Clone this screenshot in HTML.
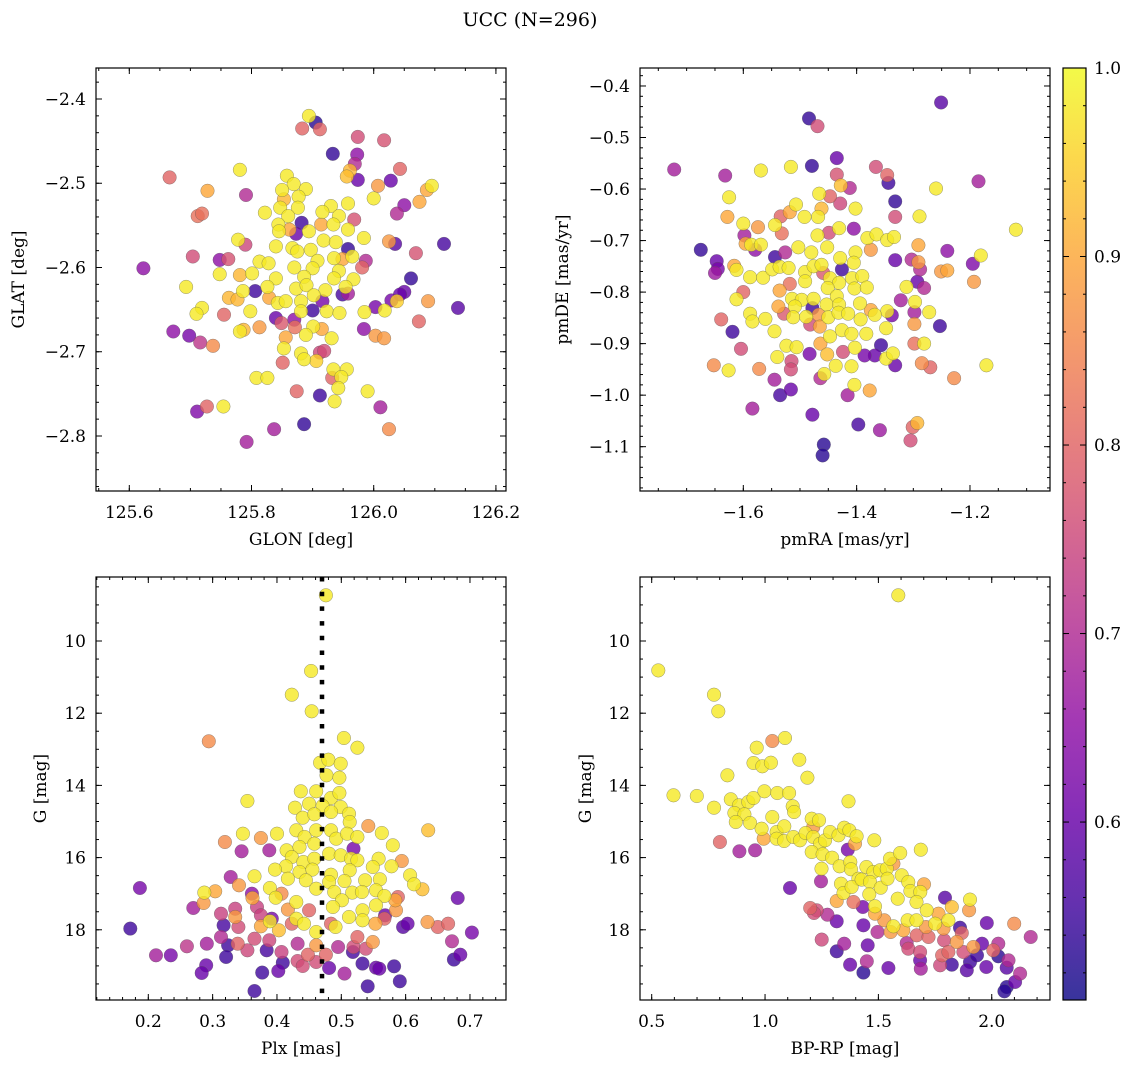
<!DOCTYPE html>
<html><head><meta charset="utf-8"><style>
html,body{margin:0;padding:0;background:#fff;}
svg{display:block;font-family:"DejaVu Serif","Liberation Serif",serif;}
</style></head><body>
<svg id="fig" width="1136" height="1067" viewBox="0 0 1136 1067" xmlns="http://www.w3.org/2000/svg">
<text x="530" y="26" font-size="19" text-anchor="middle">UCC (N=296)</text>
<g id="panels"></g>
</svg>
<script>
// ---------- Panel 1: GLON vs GLAT ----------
const p1x=[125.894,125.905,125.883,125.912,125.974,126.017,125.933,125.973,125.969,125.961,126.043,125.666,125.781,125.956,125.974,126.028,126.007,126.095,126.087,125.728,125.791,125.858,125.869,125.850,125.889,125.877,125.853,126.0,126.075,126.050,126.038,125.958,125.712,125.719,125.822,125.847,125.876,125.930,125.916,125.943,125.860,125.968,125.844,125.882,125.914,125.934,125.845,125.862,125.894,125.958,125.778,125.790,125.873,125.918,125.938,125.984,126.025,126.035,126.115,126.069,125.840,125.867,125.897,125.958,125.965,125.987,125.981,125.704,125.748,125.762,125.623,125.748,125.813,125.828,125.875,125.908,125.935,125.949,125.870,125.900,125.943,126.061,125.781,125.801,125.840,125.886,125.935,125.967,125.693,125.786,125.806,125.826,125.873,125.890,125.921,125.949,125.958,125.954,126.050,126.043,126.089,126.029,126.038,126.138,125.763,125.777,125.829,125.843,125.856,125.881,125.902,125.916,125.719,125.710,125.755,125.798,125.881,125.900,125.923,125.944,125.985,126.003,126.018,125.840,125.849,125.870,125.871,125.901,125.915,125.813,125.672,125.698,125.716,125.737,125.781,125.787,125.856,125.889,125.931,125.984,126.003,126.017,126.074,125.853,125.881,125.886,125.906,125.912,125.919,125.851,125.934,125.956,125.947,125.932,125.808,125.826,125.942,125.874,125.912,125.936,125.990,126.011,125.711,125.727,125.754,125.886,125.837,126.025,125.792];
const p1y=[-2.420,-2.428,-2.435,-2.436,-2.445,-2.449,-2.465,-2.466,-2.477,-2.485,-2.483,-2.493,-2.484,-2.492,-2.496,-2.497,-2.503,-2.503,-2.508,-2.509,-2.514,-2.491,-2.501,-2.508,-2.507,-2.516,-2.519,-2.518,-2.522,-2.526,-2.536,-2.524,-2.539,-2.536,-2.535,-2.529,-2.529,-2.527,-2.534,-2.539,-2.539,-2.543,-2.549,-2.547,-2.549,-2.549,-2.557,-2.555,-2.557,-2.555,-2.567,-2.573,-2.560,-2.568,-2.570,-2.565,-2.569,-2.572,-2.572,-2.583,-2.575,-2.577,-2.579,-2.578,-2.587,-2.592,-2.600,-2.587,-2.591,-2.590,-2.601,-2.608,-2.593,-2.595,-2.581,-2.592,-2.589,-2.590,-2.600,-2.601,-2.604,-2.613,-2.609,-2.607,-2.613,-2.611,-2.613,-2.614,-2.623,-2.628,-2.628,-2.623,-2.625,-2.621,-2.627,-2.632,-2.631,-2.623,-2.629,-2.632,-2.640,-2.639,-2.640,-2.648,-2.636,-2.638,-2.636,-2.642,-2.640,-2.640,-2.633,-2.640,-2.648,-2.655,-2.656,-2.652,-2.652,-2.651,-2.652,-2.654,-2.653,-2.647,-2.651,-2.660,-2.666,-2.662,-2.671,-2.670,-2.673,-2.671,-2.676,-2.681,-2.689,-2.693,-2.676,-2.674,-2.683,-2.680,-2.684,-2.673,-2.681,-2.684,-2.664,-2.696,-2.702,-2.709,-2.711,-2.701,-2.699,-2.713,-2.721,-2.721,-2.730,-2.731,-2.731,-2.731,-2.743,-2.747,-2.752,-2.759,-2.747,-2.766,-2.771,-2.765,-2.765,-2.786,-2.792,-2.792,-2.807];
const p1c=[.98,.53,.8,.8,.76,.77,.54,.65,.7,.92,.8,.8,.98,.93,.6,.6,.88,.98,.9,.9,.7,.98,.98,.98,.98,.98,.92,.98,.9,.65,.7,.98,.82,.82,.98,.98,.98,.98,.98,.98,.98,.77,.98,.55,.9,.98,.98,.9,.98,.98,.98,.75,.6,.98,.98,.98,.88,.58,.56,.77,.98,.98,.98,.54,.98,.7,.8,.76,.65,.77,.65,.98,.98,.98,.98,.98,.98,.9,.98,.98,.98,.54,.92,.98,.98,.98,.98,.98,.98,.98,.55,.98,.98,.98,.98,.56,.68,.98,.6,.6,.88,.62,.95,.58,.92,.92,.9,.98,.98,.98,.98,.62,.98,.98,.8,.98,.98,.55,.98,.98,.98,.62,.98,.6,.78,.65,.82,.98,.9,.88,.65,.62,.72,.86,.98,.92,.9,.98,.98,.65,.88,.88,.8,.98,.98,.98,.95,.75,.76,.8,.98,.98,.98,.8,.98,.98,.98,.8,.55,.98,.98,.68,.63,.8,.98,.54,.68,.86,.68];
const p1xTicks=[125.6,125.8,126.0,126.2];
const p1xTickLabels=["125.6","125.8","126.0","126.2"];
const p1yTicks=[-2.4,-2.5,-2.6,-2.7,-2.8];
const p1yTickLabels=["−2.4","−2.5","−2.6","−2.7","−2.8"];

// ---------- Panel 2: pmRA vs pmDE ----------
const p2x=[-1.251,-1.484,-1.469,-1.722,-1.632,-1.569,-1.516,-1.479,-1.435,-1.366,-1.346,-1.344,-1.435,-1.428,-1.412,-1.447,-1.429,-1.466,-1.185,-1.260,-1.332,-1.332,-1.625,-1.628,-1.600,-1.574,-1.534,-1.518,-1.507,-1.492,-1.468,-1.462,-1.402,-1.289,-1.119,-1.544,-1.532,-1.598,-1.596,-1.586,-1.569,-1.579,-1.675,-1.469,-1.449,-1.431,-1.405,-1.381,-1.365,-1.346,-1.334,-1.291,-1.240,-1.181,-1.195,-1.193,-1.647,-1.650,-1.645,-1.616,-1.612,-1.544,-1.526,-1.503,-1.480,-1.452,-1.429,-1.402,-1.405,-1.375,-1.332,-1.303,-1.291,-1.288,-1.251,-1.240,-1.588,-1.565,-1.549,-1.536,-1.520,-1.491,-1.476,-1.462,-1.426,-1.408,-1.390,-1.491,-1.447,-1.431,-1.459,-1.518,-1.536,-1.600,-1.612,-1.514,-1.497,-1.476,-1.451,-1.435,-1.404,-1.382,-1.293,-1.281,-1.312,-1.322,-1.297,-1.538,-1.509,-1.478,-1.453,-1.431,-1.394,-1.375,-1.346,-1.338,-1.298,-1.272,-1.639,-1.588,-1.584,-1.561,-1.528,-1.512,-1.489,-1.482,-1.467,-1.450,-1.432,-1.415,-1.393,-1.368,-1.348,-1.298,-1.253,-1.619,-1.545,-1.465,-1.447,-1.426,-1.409,-1.383,-1.604,-1.524,-1.506,-1.464,-1.403,-1.357,-1.298,-1.281,-1.540,-1.483,-1.452,-1.424,-1.386,-1.368,-1.348,-1.336,-1.171,-1.652,-1.626,-1.572,-1.515,-1.516,-1.437,-1.409,-1.332,-1.285,-1.270,-1.228,-1.545,-1.457,-1.464,-1.404,-1.377,-1.535,-1.516,-1.416,-1.584,-1.478,-1.397,-1.359,-1.301,-1.293,-1.305,-1.458,-1.460];
const p2y=[-0.432,-0.463,-0.478,-0.562,-0.574,-0.564,-0.557,-0.555,-0.540,-0.557,-0.573,-0.588,-0.572,-0.593,-0.598,-0.614,-0.628,-0.609,-0.585,-0.599,-0.624,-0.654,-0.616,-0.654,-0.667,-0.674,-0.653,-0.645,-0.630,-0.654,-0.654,-0.638,-0.638,-0.653,-0.679,-0.670,-0.686,-0.690,-0.706,-0.708,-0.708,-0.718,-0.718,-0.690,-0.685,-0.676,-0.677,-0.695,-0.688,-0.699,-0.693,-0.709,-0.720,-0.729,-0.745,-0.780,-0.740,-0.763,-0.755,-0.749,-0.757,-0.732,-0.723,-0.713,-0.723,-0.713,-0.734,-0.723,-0.743,-0.718,-0.738,-0.737,-0.742,-0.756,-0.760,-0.758,-0.771,-0.772,-0.756,-0.751,-0.753,-0.761,-0.750,-0.747,-0.756,-0.773,-0.769,-0.779,-0.773,-0.782,-0.763,-0.784,-0.797,-0.800,-0.814,-0.813,-0.815,-0.813,-0.792,-0.808,-0.793,-0.791,-0.780,-0.792,-0.790,-0.816,-0.819,-0.828,-0.828,-0.831,-0.824,-0.824,-0.822,-0.835,-0.837,-0.845,-0.839,-0.839,-0.853,-0.842,-0.857,-0.852,-0.842,-0.849,-0.848,-0.863,-0.844,-0.849,-0.840,-0.842,-0.853,-0.844,-0.870,-0.862,-0.866,-0.877,-0.876,-0.867,-0.886,-0.874,-0.881,-0.881,-0.910,-0.904,-0.907,-0.900,-0.908,-0.903,-0.900,-0.900,-0.926,-0.920,-0.921,-0.916,-0.923,-0.923,-0.929,-0.919,-0.942,-0.942,-0.952,-0.949,-0.934,-0.950,-0.943,-0.944,-0.942,-0.938,-0.946,-0.967,-0.970,-0.959,-0.967,-0.980,-0.991,-1.000,-0.989,-1.000,-1.026,-1.038,-1.057,-1.068,-1.062,-1.054,-1.088,-1.096,-1.117];
const p2c=[.58,.54,.76,.68,.68,.98,.98,.54,.6,.76,.8,.55,.77,.93,.7,.8,.75,.98,.68,.98,.54,.76,.98,.9,.98,.88,.8,.9,.98,.98,.98,.92,.98,.98,.98,.98,.82,.68,.9,.98,.98,.65,.54,.98,.76,.98,.65,.98,.98,.98,.98,.9,.65,.98,.63,.88,.6,.67,.62,.9,.98,.55,.7,.98,.98,.98,.98,.98,.98,.88,.6,.7,.88,.7,.88,.9,.98,.98,.98,.98,.98,.98,.98,.98,.55,.98,.98,.98,.98,.98,.78,.82,.9,.8,.98,.98,.98,.98,.98,.98,.98,.98,.6,.7,.98,.68,.98,.9,.98,.55,.98,.98,.98,.9,.98,.62,.68,.98,.8,.98,.98,.98,.78,.98,.98,.76,.88,.98,.98,.98,.98,.98,.98,.88,.55,.55,.98,.9,.98,.98,.98,.98,.76,.98,.98,.9,.98,.55,.82,.98,.98,.62,.93,.76,.62,.6,.98,.98,.98,.86,.98,.86,.76,.76,.98,.98,.6,.86,.8,.86,.68,.98,.7,.98,.9,.56,.6,.68,.68,.6,.56,.67,.8,.92,.76,.53,.53];
const p2xTicks=[-1.6,-1.4,-1.2];
const p2xTickLabels=["−1.6","−1.4","−1.2"];
const p2yTicks=[-0.4,-0.5,-0.6,-0.7,-0.8,-0.9,-1.0,-1.1];
const p2yTickLabels=["−0.4","−0.5","−0.6","−0.7","−0.8","−0.9","−1.0","−1.1"];

// ---------- Panel 3: Plx vs G ----------
const p3x=[0.476,0.453,0.423,0.454,0.294,0.504,0.525,0.467,0.480,0.499,0.477,0.497,0.354,0.437,0.461,0.484,0.497,0.428,0.450,0.471,0.499,0.440,0.458,0.484,0.512,0.513,0.347,0.319,0.375,0.400,0.345,0.388,0.430,0.443,0.461,0.484,0.492,0.509,0.525,0.542,0.563,0.635,0.519,0.580,0.415,0.435,0.458,0.423,0.441,0.458,0.481,0.499,0.515,0.525,0.558,0.594,0.578,0.549,0.414,0.397,0.435,0.455,0.484,0.513,0.607,0.613,0.626,0.365,0.328,0.341,0.417,0.445,0.481,0.505,0.537,0.560,0.389,0.287,0.304,0.361,0.398,0.407,0.461,0.489,0.517,0.532,0.554,0.567,0.588,0.681,0.187,0.270,0.286,0.362,0.335,0.369,0.417,0.430,0.450,0.501,0.487,0.533,0.554,0.584,0.568,0.585,0.313,0.335,0.375,0.392,0.317,0.340,0.375,0.389,0.403,0.430,0.423,0.442,0.461,0.484,0.491,0.512,0.533,0.553,0.567,0.634,0.650,0.666,0.596,0.603,0.703,0.172,0.672,0.675,0.685,0.212,0.235,0.260,0.291,0.313,0.324,0.339,0.354,0.321,0.365,0.384,0.388,0.407,0.409,0.432,0.448,0.461,0.432,0.440,0.461,0.476,0.481,0.495,0.519,0.525,0.538,0.549,0.518,0.533,0.554,0.559,0.582,0.505,0.402,0.377,0.290,0.283,0.591,0.541,0.365];
const p3y=[8.735,10.831,11.487,11.948,12.779,12.687,12.955,13.370,13.287,13.398,13.721,13.786,14.432,14.164,14.164,14.349,14.211,14.617,14.506,14.571,14.598,14.894,14.802,14.737,14.783,15.014,15.337,15.568,15.457,15.337,15.826,15.799,15.245,15.429,15.245,15.245,15.476,15.337,15.429,15.125,15.319,15.245,15.753,15.660,15.799,15.706,15.614,15.983,16.122,16.030,15.891,15.937,16.030,16.076,16.030,16.094,16.242,16.260,16.242,16.334,16.399,16.334,16.473,16.353,16.491,16.741,16.879,16.519,16.537,16.768,16.584,16.630,16.676,16.648,16.630,16.602,16.842,16.971,16.934,16.999,17.110,16.999,16.861,16.953,16.971,16.953,16.907,17.064,17.091,17.119,16.842,17.396,17.258,17.119,17.415,17.368,17.442,17.230,17.461,17.184,17.368,17.461,17.322,17.184,17.600,17.461,17.553,17.645,17.600,17.692,17.876,17.922,17.904,17.766,18.015,17.692,17.830,17.830,18.061,17.830,17.922,17.645,17.738,17.830,17.692,17.784,17.922,17.830,17.922,17.830,18.079,17.968,18.319,18.827,18.689,18.707,18.707,18.458,18.384,18.199,18.430,18.384,18.569,18.754,18.246,18.569,18.292,18.615,18.911,18.384,18.689,18.430,18.864,19.003,18.892,18.689,19.058,18.476,18.476,18.199,18.523,18.338,18.615,18.938,19.049,19.077,19.012,19.215,19.141,19.187,18.984,19.197,19.428,19.566,19.695];
const p3c=[.98,.98,.98,.98,.86,.98,.98,.98,.98,.98,.98,.98,.98,.98,.98,.98,.98,.98,.98,.98,.98,.98,.98,.98,.98,.98,.98,.86,.88,.98,.68,.68,.98,.98,.98,.98,.98,.98,.98,.88,.98,.93,.62,.98,.98,.98,.98,.98,.98,.98,.98,.98,.98,.98,.98,.88,.98,.98,.98,.98,.98,.98,.98,.98,.98,.98,.93,.98,.68,.88,.98,.98,.98,.98,.98,.98,.98,.98,.9,.65,.98,.86,.98,.98,.98,.98,.98,.98,.8,.6,.62,.68,.88,.9,.74,.74,.88,.98,.8,.98,.98,.98,.98,.9,.6,.88,.74,.88,.74,.62,.56,.76,.9,.98,.93,.98,.8,.98,.98,.8,.98,.98,.98,.9,.8,.88,.8,.8,.58,.6,.62,.55,.7,.55,.6,.68,.62,.72,.68,.7,.55,.8,.75,.55,.76,.56,.75,.74,.55,.7,.8,.88,.76,.76,.76,.8,.6,.7,.76,.8,.76,.88,.56,.55,.6,.6,.55,.68,.6,.55,.6,.6,.55,.55,.55];
const p3xTicks=[0.2,0.3,0.4,0.5,0.6,0.7];
const p3xTickLabels=["0.2","0.3","0.4","0.5","0.6","0.7"];
const p3yTicks=[10,12,14,16,18];
const p3yTickLabels=["10","12","14","16","18"];
const plxLine=[0.47];

// ---------- Panel 4: BP-RP vs G ----------
const p4x=[1.588,0.529,0.775,0.794,1.032,1.088,0.963,0.949,0.988,1.026,1.151,1.187,0.834,0.596,0.699,0.775,0.849,0.885,0.926,0.949,0.997,1.054,1.106,1.122,1.128,1.368,0.865,0.909,0.871,0.934,0.985,1.032,1.051,1.085,0.994,1.051,1.084,1.125,1.154,1.179,1.206,1.238,1.213,0.801,0.887,0.956,1.213,1.243,1.265,1.287,1.324,1.349,1.372,1.404,1.397,1.365,1.482,1.687,1.206,1.254,1.296,1.249,1.329,1.376,1.379,1.412,1.447,1.478,1.507,1.537,1.551,1.596,1.566,1.110,1.247,1.335,1.346,1.382,1.426,1.463,1.460,1.510,1.540,1.603,1.632,1.641,1.685,1.701,1.668,1.713,1.794,1.824,1.904,1.900,1.316,1.390,1.431,1.485,1.585,1.199,1.228,1.216,1.275,1.316,1.434,1.496,1.485,1.526,1.566,1.554,1.610,1.629,1.668,1.710,1.750,1.787,1.809,1.765,1.860,1.868,1.978,2.099,2.172,1.250,1.349,1.316,1.453,1.449,1.375,1.434,1.544,1.625,1.669,1.721,1.632,1.684,1.684,1.687,1.772,1.781,1.809,1.790,1.846,1.824,1.875,1.904,1.890,1.919,1.935,1.957,1.976,2.029,2.029,2.074,2.066,2.125,2.103,2.066,2.056,2.007];
const p4y=[8.735,10.813,11.487,11.948,12.770,12.687,12.955,13.380,13.472,13.370,13.287,13.786,13.721,14.275,14.294,14.617,14.386,14.552,14.460,14.349,14.164,14.211,14.211,14.580,14.737,14.441,14.765,14.802,15.014,15.042,15.199,14.875,15.291,15.134,15.476,15.476,15.540,15.429,15.522,15.319,14.922,14.968,15.153,15.568,15.826,15.799,15.429,15.614,15.522,15.291,15.383,15.171,15.245,15.411,15.614,15.780,15.522,15.780,15.845,15.909,16.002,16.307,16.242,16.122,16.325,16.584,16.260,16.399,16.353,16.307,16.030,15.873,16.168,16.842,16.657,16.722,16.981,16.814,16.611,16.676,17.018,16.833,16.584,16.491,16.676,16.925,16.953,16.741,17.230,17.461,17.110,17.368,17.165,17.461,17.202,17.230,17.368,17.350,17.138,17.396,17.461,17.535,17.581,17.766,17.876,18.061,17.553,17.738,17.904,18.061,18.015,17.738,17.738,17.922,17.830,17.968,17.738,17.553,17.941,18.089,17.812,17.830,18.199,18.273,18.384,18.596,18.430,18.874,18.966,19.187,19.058,18.366,18.153,18.199,18.523,18.615,18.846,19.077,18.984,18.707,18.615,18.292,18.338,18.966,18.615,18.892,19.123,18.476,18.707,18.384,19.031,18.384,18.735,18.846,19.049,19.215,19.446,19.584,19.704,18.569];
const p4c=[.98,.98,.98,.98,.86,.98,.98,.98,.98,.98,.98,.98,.98,.98,.98,.98,.98,.98,.98,.98,.98,.98,.98,.98,.98,.98,.98,.98,.98,.98,.98,.98,.98,.98,.9,.98,.98,.98,.98,.98,.98,.98,.88,.8,.68,.68,.98,.98,.98,.98,.98,.98,.98,.98,.9,.62,.98,.98,.98,.98,.98,.98,.98,.98,.98,.98,.98,.98,.98,.98,.98,.98,.88,.6,.68,.98,.98,.98,.98,.98,.98,.98,.98,.98,.98,.98,.98,.9,.98,.98,.58,.93,.98,.88,.9,.82,.62,.98,.98,.8,.76,.76,.7,.6,.6,.7,.9,.88,.98,.88,.9,.98,.98,.88,.98,.88,.98,.9,.55,.8,.6,.86,.7,.75,.68,.55,.6,.7,.6,.53,.6,.7,.8,.8,.76,.76,.6,.68,.75,.8,.8,.76,.88,.55,.76,.55,.58,.88,.55,.6,.6,.7,.53,.7,.58,.7,.6,.53,.53,.8];
const p4xTicks=[0.5,1.0,1.5,2.0];
const p4xTickLabels=["0.5","1.0","1.5","2.0"];
const p4yTicks=[10,12,14,16,18];
const p4yTickLabels=["10","12","14","16","18"];

// ---------- Colorbar ----------
const cbTicks=[0.6,0.7,0.8,0.9,1.0];
const cbTickLabels=["0.6","0.7","0.8","0.9","1.0"];

const NS="http://www.w3.org/2000/svg";
const CMIN=0.5056, CMAX=1.0;
const FS=17;
const plasma=["#0d0887","#41049d","#6a00a8","#8f0da4","#b12a90","#cc4778","#e16462","#f2844b","#fca636","#fcce25","#f0f921"];
function hex(h){return [parseInt(h.substr(1,2),16),parseInt(h.substr(3,2),16),parseInt(h.substr(5,2),16)];}
function cmap(t){t=Math.max(0,Math.min(1,t));const f=t*10;const i=Math.min(9,Math.floor(f));const r=f-i;const a=hex(plasma[i]),b=hex(plasma[i+1]);
 return "rgb("+a.map((v,k)=>Math.round(v+(b[k]-v)*r)).join(",")+")";}
function mk(tag,attrs,parent){const e=document.createElementNS(NS,tag);for(const k in attrs)e.setAttribute(k,attrs[k]);parent.appendChild(e);return e;}
const root=document.getElementById("panels");

function linScale(d0,d1,r0,r1){return v=>r0+(v-d0)/(d1-d0)*(r1-r0);}

function panel(cfg){
 const g=mk("g",{},root);
 
 
 const X=linScale(cfg.xd[0],cfg.xd[1],cfg.L,cfg.R), Y=linScale(cfg.yd[0],cfg.yd[1],cfg.T,cfg.B);
 const cid="clip-"+cfg.name;
 const cp=mk("clipPath",{id:cid},g);mk("rect",{x:cfg.L,y:cfg.T,width:cfg.R-cfg.L,height:cfg.B-cfg.T},cp);
 const pts=mk("g",{"clip-path":"url(#"+cid+")"},g);
 
 
 const idx=cfg.xs.map((_,i)=>i).sort((a,b)=>cfg.cs[a]-cfg.cs[b]);
 idx.forEach(i=>{
  const c=mk("circle",{cx:X(cfg.xs[i]).toFixed(1),cy:Y(cfg.ys[i]).toFixed(1),r:6.8,fill:cmap((cfg.cs[i]-CMIN)/(CMAX-CMIN)),"fill-opacity":0.8,stroke:"#555","stroke-width":0.5,"stroke-opacity":0.6},pts);
  
  
 });
 if(cfg.vline){cfg.vline.forEach(v=>{
  const l=mk("line",{x1:X(v),x2:X(v),y1:cfg.T,y2:cfg.B,stroke:"#000","stroke-width":4.5,"stroke-dasharray":"4.5 10.2"},g);
  
  
 });}
 const fr=mk("rect",{x:cfg.L,y:cfg.T,width:cfg.R-cfg.L,height:cfg.B-cfg.T,fill:"none",stroke:"#000","stroke-width":1.2},g);
 
 
 const tk=mk("g",{stroke:"#000","stroke-width":1},g);
 
 
 function minors(d,step){const lo=Math.min(d[0],d[1]),hi=Math.max(d[0],d[1]);const out=[];for(let v=Math.ceil(lo/step-1e-6)*step;v<=hi+1e-9;v+=step)out.push(v);return out;}
 minors(cfg.xd,cfg.xminor).forEach(v=>{const x=X(v);mk("line",{x1:x,x2:x,y1:cfg.B,y2:cfg.B-3},tk);mk("line",{x1:x,x2:x,y1:cfg.T,y2:cfg.T+3},tk);});
 minors(cfg.yd,cfg.yminor).forEach(v=>{const y=Y(v);mk("line",{x1:cfg.L,x2:cfg.L+3,y1:y,y2:y},tk);mk("line",{x1:cfg.R,x2:cfg.R-3,y1:y,y2:y},tk);});
 cfg.xt.forEach((v,i)=>{const x=X(v);mk("line",{x1:x,x2:x,y1:cfg.B,y2:cfg.B-6},tk);mk("line",{x1:x,x2:x,y1:cfg.T,y2:cfg.T+6},tk);
  const t=mk("text",{x:x,y:cfg.B+27,"font-size":FS,"text-anchor":"middle"},g);t.textContent=cfg.xtl[i];
  
  });
 cfg.yt.forEach((v,i)=>{const y=Y(v);mk("line",{x1:cfg.L,x2:cfg.L+6,y1:y,y2:y},tk);mk("line",{x1:cfg.R,x2:cfg.R-6,y1:y,y2:y},tk);
  const t=mk("text",{x:cfg.L-10,y:y+6,"font-size":FS,"text-anchor":"end"},g);t.textContent=cfg.ytl[i];
  
  });
 const xl=mk("text",{x:(cfg.L+cfg.R)/2,y:cfg.B+54,"font-size":FS,"text-anchor":"middle"},g);xl.textContent=cfg.xlabel;
 
 
 const yx=cfg.ylx, yy=(cfg.T+cfg.B)/2;
 const yl=mk("text",{x:yx,y:yy,"font-size":FS,"text-anchor":"middle",transform:"rotate(-90 "+yx+" "+yy+")"},g);yl.textContent=cfg.ylabel;
 
 
}

panel({name:"panel-glon-glat",L:96,R:506,T:68,B:491,xd:[125.5455,126.2165],yd:[-2.3632,-2.8653],xs:p1x,ys:p1y,cs:p1c,xt:p1xTicks,xtl:p1xTickLabels,yt:p1yTicks,ytl:p1yTickLabels,xminor:0.05,yminor:0.02,xlabel:"GLON [deg]",ylabel:"GLAT [deg]",ylx:24});
panel({name:"panel-pmra-pmde",L:640,R:1050,T:68,B:491,xd:[-1.7823,-1.0588],yd:[-0.3651,-1.1860],xs:p2x,ys:p2y,cs:p2c,xt:p2xTicks,xtl:p2xTickLabels,yt:p2yTicks,ytl:p2yTickLabels,xminor:0.05,yminor:0.02,xlabel:"pmRA [mas/yr]",ylabel:"pmDE [mas/yr]",ylx:568});
panel({name:"panel-plx-g",L:96,R:506,T:577,B:1000,xd:[0.1187,0.7560],yd:[8.227,19.945],xs:p3x,ys:p3y,cs:p3c,xt:p3xTicks,xtl:p3xTickLabels,yt:p3yTicks,ytl:p3yTickLabels,xminor:0.02,yminor:0.5,xlabel:"Plx [mas]",ylabel:"G [mag]",ylx:46,vline:plxLine});
panel({name:"panel-bprp-g",L:640,R:1050,T:577,B:1000,xd:[0.4484,2.257],yd:[8.227,19.945],xs:p4x,ys:p4y,cs:p4c,xt:p4xTicks,xtl:p4xTickLabels,yt:p4yTicks,ytl:p4yTickLabels,xminor:0.1,yminor:0.5,xlabel:"BP-RP [mag]",ylabel:"G [mag]",ylx:591});

(function(){
 const L=1063,R=1086,T=68,B=1000;
 const g=mk("g",{},root);
 
 
 const defs=mk("defs",{},g);
 const lg=mk("linearGradient",{id:"cbgrad",x1:0,y1:1,x2:0,y2:0},defs);
 for(let i=0;i<=20;i++){mk("stop",{offset:i/20,"stop-color":cmap(i/20)},lg);}
 const r=mk("rect",{x:L,y:T,width:R-L,height:B-T,fill:"url(#cbgrad)","fill-opacity":0.82},g);
 
 
 mk("rect",{x:L,y:T,width:R-L,height:B-T,fill:"none",stroke:"#000","stroke-width":1.2},g);
 const Y=linScale(CMIN,CMAX,B,T);
 for(let v=0.52;v<=1.0001;v+=0.02){const y=Y(v);mk("line",{x1:R,x2:R-3,y1:y,y2:y,stroke:"#000","stroke-width":1},g);mk("line",{x1:L,x2:L+3,y1:y,y2:y,stroke:"#000","stroke-width":1},g);}
 cbTicks.forEach((v,i)=>{const y=Y(v);mk("line",{x1:R,x2:R-6,y1:y,y2:y,stroke:"#000","stroke-width":1},g);mk("line",{x1:L,x2:L+6,y1:y,y2:y,stroke:"#000","stroke-width":1},g);
  const t=mk("text",{x:R+8,y:y+6,"font-size":FS},g);t.textContent=cbTickLabels[i];
  
  });
})();
</script>
</body></html>
